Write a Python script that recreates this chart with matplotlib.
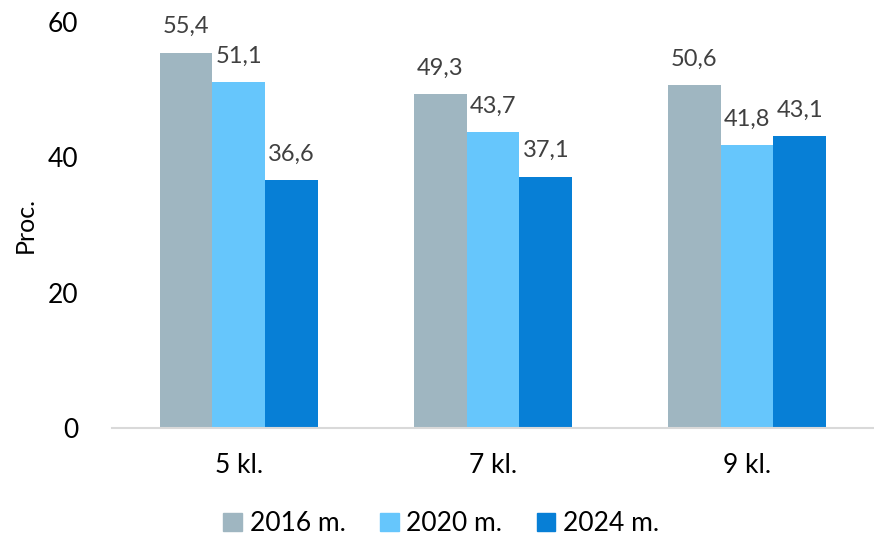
import numpy as np
import matplotlib
matplotlib.use("Agg")
import matplotlib.pyplot as plt
from matplotlib.patches import Patch

# Datos
categorias = ["5 kl.", "7 kl.", "9 kl."]
series = ["2016 m.", "2020 m.", "2024 m."]
v2016 = [55.4, 49.3, 50.6]
v2020 = [51.1, 43.7, 41.8]
v2024 = [36.6, 37.1, 43.1]
colores = ["#9FB6C1", "#66C6FC", "#077FD6"]

plt.rcParams['font.family'] = ['Lato', 'DejaVu Sans']

fig = plt.figure(figsize=(8.74, 5.36), dpi=100)
ax = fig.add_axes([0.128, 0.2015, 0.872, 0.758])

x = np.arange(len(categorias))
ancho = 0.208
for i, (vals, col) in enumerate(zip([v2016, v2020, v2024], colores)):
    barras = ax.bar(x + (i - 1) * ancho, vals, ancho, color=col, zorder=2)
    for b, v in zip(barras, vals):
        ax.text(b.get_x() + b.get_width() / 2, v + 2.3, f"{v:.1f}".replace(".", ","),
                ha="center", va="bottom", fontsize=17, color="#404040")

ax.set_xlim(-0.5, 2.5)
ax.set_ylim(0, 60)
ax.set_yticks([0, 20, 40, 60])
ax.set_xticks(x)
ax.set_xticklabels(categorias)
ax.tick_params(axis="both", length=0, labelsize=19, colors="black")
ax.tick_params(axis="x", pad=18)
ax.tick_params(axis="y", pad=24)
for s in ["top", "right", "left"]:
    ax.spines[s].set_visible(False)
ax.spines["bottom"].set_color("#D9D9D9")
ax.spines["bottom"].set_linewidth(1.5)
ax.set_ylabel("Proc.", fontsize=18)
ax.yaxis.set_label_coords(-0.098, 0.5)

handles = [Patch(color=c, label=s) for c, s in zip(colores, series)]
fig.legend(handles=handles, loc="lower center", bbox_to_anchor=(0.505, -0.045), ncol=3,
           frameon=False, fontsize=19, handlelength=0.7, handleheight=0.7,
           handletextpad=0.3, columnspacing=1.3)

fig.savefig("out.png", dpi=100)
